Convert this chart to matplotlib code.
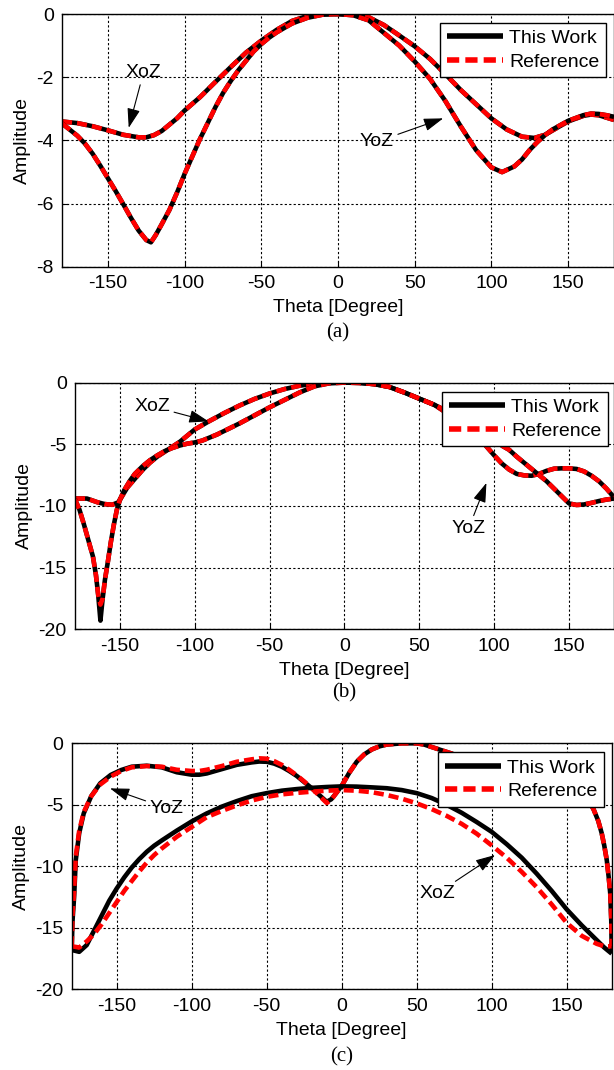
import numpy as np
import matplotlib
matplotlib.use("Agg")
import matplotlib.pyplot as plt

plt.rcParams['font.family'] = ['Liberation Sans', 'DejaVu Sans']
plt.rcParams['axes.unicode_minus'] = False

# ---------------- data ----------------
# panel (a)
a_xoz_t = [-180, -170, -160, -150, -140, -130, -125, -120, -115, -110, -105, -100, -90, -80, -70, -60, -50,
           -40, -30, -20, -10, 0, 10, 20, 30, 40, 50, 60, 70, 80, 90, 100, 110, 120, 128, 135, 140, 150,
           160, 165, 170, 180]
a_xoz = [-3.40, -3.45, -3.55, -3.68, -3.82, -3.90, -3.90, -3.83, -3.70, -3.50, -3.30, -3.05, -2.63, -2.15,
         -1.68, -1.22, -0.84, -0.50, -0.22, -0.06, 0.0, 0.0, -0.02, -0.10, -0.35, -0.68, -1.02, -1.42, -1.90,
         -2.40, -2.85, -3.30, -3.65, -3.88, -3.92, -3.82, -3.68, -3.40, -3.22, -3.18, -3.20, -3.35]
a_yoz_t = [-180, -170, -165, -160, -155, -150, -145, -140, -135, -130, -125, -122, -119, -115, -110, -105,
           -100, -95, -90, -85, -80, -75, -70, -65, -60, -55, -50, -45, -40, -30, -20, -10, 0, 10, 20, 30,
           40, 50, 60, 70, 80, 90, 100, 107, 115, 120, 125, 130, 135, 140, 150, 160, 165, 170, 175, 180]
a_yoz = [-3.46, -3.85, -4.10, -4.42, -4.80, -5.20, -5.60, -6.02, -6.45, -6.85, -7.15, -7.22, -7.00, -6.65,
         -6.20, -5.65, -5.05, -4.50, -3.95, -3.45, -2.95, -2.50, -2.12, -1.78, -1.48, -1.18, -0.95, -0.75,
         -0.58, -0.30, -0.12, -0.02, 0.0, -0.04, -0.20, -0.60, -1.00, -1.50, -2.05, -2.75, -3.55, -4.30,
         -4.85, -5.00, -4.82, -4.60, -4.30, -4.05, -3.83, -3.65, -3.38, -3.20, -3.15, -3.16, -3.20, -3.25]

# panel (b)
b_xoz_t = [-180, -172, -165, -160, -155, -151, -148, -145, -140, -135, -130, -125, -120, -115, -110, -105,
           -100, -95, -90, -80, -70, -60, -50, -40, -30, -20, -10, 0, 10, 20, 30, 40, 50, 60, 70, 80, 90,
           100, 105, 110, 115, 120, 125, 130, 135, 140, 145, 150, 155, 160, 165, 170, 175, 180]
b_xoz = [-9.40, -9.40, -9.70, -9.85, -9.90, -9.70, -9.10, -8.50, -7.80, -7.10, -6.50, -6.00, -5.60, -5.20,
         -4.80, -4.30, -3.80, -3.45, -3.10, -2.45, -1.85, -1.32, -0.88, -0.52, -0.25, -0.08, -0.02, 0.0,
         -0.02, -0.12, -0.35, -0.80, -1.30, -1.80, -2.60, -3.50, -4.50, -5.90, -6.55, -7.05, -7.40, -7.52,
         -7.55, -7.40, -7.15, -6.98, -6.95, -6.95, -7.00, -7.20, -7.55, -8.00, -8.60, -9.30]
b_yoz_t = [-180, -177, -174, -171, -168, -166, -164.5, -163, -161.5, -160, -158, -156, -154, -152, -150,
           -147, -143, -140, -135, -130, -125, -120, -115, -110, -105, -100, -95, -90, -85, -80, -75, -70,
           -60, -50, -40, -30, -20, -10, 0, 10, 20, 30, 40, 50, 60, 70, 80, 90, 100, 105, 110, 115, 120,
           125, 130, 135, 140, 145, 150, 155, 160, 165, 170, 175, 180]
b_yoz = [-9.46, -10.3, -11.5, -12.8, -14.1, -15.6, -17.2, -19.3, -17.5, -16.0, -14.5, -12.9, -11.5, -10.3,
         -9.50, -8.70, -7.90, -7.40, -6.80, -6.30, -5.90, -5.55, -5.30, -5.10, -4.95, -4.85, -4.70, -4.45,
         -4.20, -3.90, -3.60, -3.30, -2.65, -2.00, -1.40, -0.80, -0.30, -0.05, 0.0, -0.02, -0.12, -0.35,
         -0.80, -1.30, -1.80, -2.40, -3.10, -3.80, -4.60, -5.10, -5.45, -6.00, -6.50, -7.00, -7.50, -8.00,
         -8.60, -9.20, -9.80, -9.92, -9.88, -9.75, -9.60, -9.48, -9.40]
b_yoz_ref = list(b_yoz)
b_yoz_ref[7] = -18.0   # reference dip is shallower

# panel (c)
c_yoz_t = [-180, -179.5, -178.4, -177.3, -175, -172, -167, -161, -154, -147, -140, -130, -120, -110, -100,
           -95, -90, -80, -70, -60, -55, -50, -45, -40, -35, -30, -25, -20, -15, -10, -7, -4, 0, 5, 10, 15,
           20, 25, 30, 40, 50, 55, 60, 70, 80, 90, 100, 110, 120, 130, 140, 150, 160, 165, 168, 171, 173.3,
           175, 176.7, 178, 179, 179.7, 180]
c_yoz = [-16.9, -14.5, -12.5, -9.5, -7.3, -5.7, -4.3, -3.25, -2.57, -2.17, -1.90, -1.82, -1.95, -2.35,
         -2.55, -2.55, -2.45, -2.10, -1.75, -1.55, -1.48, -1.50, -1.65, -1.90, -2.25, -2.65, -3.15, -3.65,
         -4.20, -4.75, -4.55, -4.10, -3.45, -2.40, -1.50, -0.90, -0.50, -0.25, -0.10, 0.0, 0.0, -0.10, -0.30,
         -0.70, -1.10, -1.40, -1.60, -1.80, -1.90, -2.00, -2.20, -2.60, -3.60, -4.70, -5.40, -6.30, -7.30,
         -8.30, -9.50, -10.9, -12.2, -14.5, -17.0]
c_yoz_ref = [-16.5, -14.0, -12.0, -9.2, -7.1, -5.6, -4.3, -3.35, -2.70, -2.25, -1.95, -1.85, -1.90, -2.15,
             -2.25, -2.25, -2.15, -1.85, -1.50, -1.30, -1.22, -1.25, -1.45, -1.75, -2.15, -2.60, -3.10, -3.65,
             -4.25, -4.85, -4.60, -4.10, -3.45, -2.40, -1.50, -0.90, -0.50, -0.25, -0.10, 0.0, 0.0, -0.10,
             -0.30, -0.70, -1.10, -1.40, -1.60, -1.80, -1.90, -2.00, -2.20, -2.60, -3.60, -4.70, -5.40, -6.30,
             -7.30, -8.30, -9.50, -10.9, -12.2, -14.3, -16.5]
c_xoz_t = [-180, -175, -170, -165, -160, -155, -150, -145, -140, -135, -130, -125, -120, -110, -100, -90,
           -80, -70, -60, -50, -40, -30, -20, -10, 0, 10, 20, 30, 40, 50, 60, 70, 80, 90, 100, 110, 120,
           130, 140, 150, 160, 170, 175, 180]
c_xoz = [-16.8, -16.95, -16.4, -15.2, -14.0, -12.8, -11.8, -10.9, -10.1, -9.42, -8.82, -8.32, -7.9, -7.1,
         -6.35, -5.7, -5.15, -4.7, -4.3, -4.05, -3.85, -3.72, -3.62, -3.55, -3.50, -3.52, -3.58, -3.65,
         -3.80, -4.05, -4.45, -5.00, -5.65, -6.40, -7.20, -8.20, -9.30, -10.6, -12.0, -13.5, -14.8, -16.0,
         -16.6, -17.1]
c_xoz_ref = [-16.5, -16.6, -16.1, -15.5, -14.7, -13.8, -12.9, -12.0, -11.2, -10.42, -9.7, -9.08, -8.55,
             -7.6, -6.8, -6.0, -5.5, -5.05, -4.65, -4.35, -4.15, -4.03, -3.93, -3.85, -3.80, -3.85, -3.97,
             -4.20, -4.50, -4.88, -5.35, -5.90, -6.55, -7.35, -8.30, -9.30, -10.45, -11.7, -13.1, -14.6,
             -15.65, -16.3, -16.5, -16.5]

xticks = [-150, -100, -50, 0, 50, 100, 150]

fig = plt.figure(figsize=(6.14, 10.70), dpi=100)
FS = 14


def panel(rect, ylim, yticks, series, legend_anchor, notes, tag):
    ax = fig.add_axes(rect)
    first = True
    for t, work, ref in series:
        ax.plot(t, work, color='k', lw=3.3, solid_capstyle='butt',
                label='This Work' if first else None)
        ax.plot(t, ref, color='red', lw=3.3, ls=(0, (2.2, 1.1)),
                label='Reference' if first else None)
        first = False
    ax.set_xlim(-180, 180)
    ax.set_ylim(*ylim)
    ax.set_xticks(xticks)
    ax.set_yticks(yticks)
    ax.grid(True, color='k', ls=(0, (2, 2)), lw=0.8)
    ax.tick_params(direction='in', labelsize=FS, pad=6, length=4)
    for s in ax.spines.values():
        s.set_linewidth(1.0)
    ax.set_xlabel('Theta [Degree]', fontsize=FS, labelpad=5)
    ax.set_ylabel('Amplitude', fontsize=FS, labelpad=4)
    leg = ax.legend(loc='upper right', bbox_to_anchor=legend_anchor, fontsize=FS, handlelength=2.9,
                    fancybox=False, framealpha=1, edgecolor='k', borderpad=0.35, labelspacing=0.3,
                    handletextpad=0.3, borderaxespad=0)
    leg.get_frame().set_linewidth(1.0)
    for line in leg.get_lines():
        line.set_linewidth(4.0)
    for txt, tip, pos in notes:
        ax.annotate(txt, xy=tip, xytext=pos, fontsize=FS, ha='center', va='center',
                    arrowprops=dict(arrowstyle='-|>,head_length=1.0,head_width=0.33', color='k', lw=0.8,
                                    mutation_scale=12, shrinkA=1, shrinkB=0))
    fig.text(rect[0] + rect[2] / 2, tag[1], tag[0], ha='center', va='center', fontsize=15,
             family='Liberation Serif')
    return ax


panel([0.101, 0.7505, 0.899, 0.2364], (-8, 0), [-8, -6, -4, -2, 0],
      [(a_xoz_t, a_xoz, a_xoz), (a_yoz_t, a_yoz, a_yoz)],
      (0.9855, 0.9656),
      [('XoZ', (-136.5, -3.6), (-126.8, -1.84)), ('YoZ', (68.6, -3.3), (25.3, -4.04))],
      ('(a)', 1 - 333 / 1070))

panel([0.1221, 0.4119, 0.8779, 0.2305], (-20, 0), [-20, -15, -10, -5, 0],
      [(b_xoz_t, b_xoz, b_xoz), (b_yoz_t, b_yoz, b_yoz_ref)],
      (0.989, 0.963),
      [('XoZ', (-90.8, -3.14), (-128.5, -1.92)), ('YoZ', (94.8, -8.13), (83, -11.8))],
      ('(b)', 1 - 693 / 1070))

panel([0.1168, 0.0754, 0.8795, 0.2299], (-20, 0), [-20, -15, -10, -5, 0],
      [(c_yoz_t, c_yoz, c_yoz_ref), (c_xoz_t, c_xoz, c_xoz_ref)],
      (0.9857, 0.963),
      [('YoZ', (-154.5, -3.66), (-116.7, -5.28)), ('XoZ', (102.2, -9.08), (63.7, -12.2))],
      ('(c)', 1 - 1057 / 1070))

fig.savefig('out.png', dpi=100)
